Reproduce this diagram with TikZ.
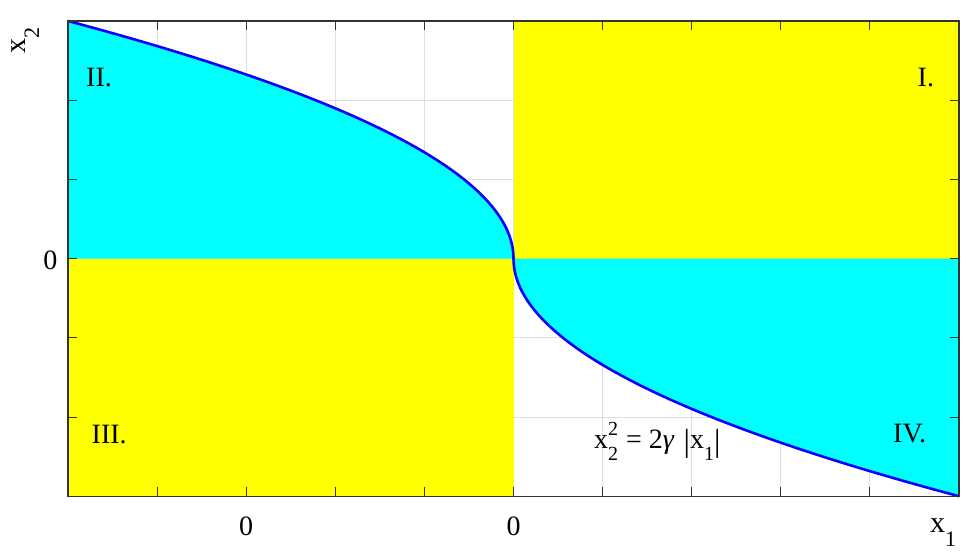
\documentclass[tikz,border=0pt]{standalone}
\usepackage{fontspec}
\setmainfont{Liberation Serif}
\definecolor{gridgray}{HTML}{DEDEDE}
\definecolor{axisgray}{HTML}{333333}
\definecolor{cyanfill}{RGB}{0,255,255}
\definecolor{yellowfill}{RGB}{255,255,0}
\definecolor{curveblue}{RGB}{0,0,255}
\tikzset{
  gridline/.style={draw=gridgray, line width=1pt},
  axisline/.style={draw=axisgray, line width=1.3pt},
  tickline/.style={draw=axisgray, line width=1pt},
  boundary/.style={draw=curveblue, line width=2.6pt},
  lbl/.style={inner sep=0pt, font=\fontsize{28}{28}\selectfont},
  axlbl/.style={inner sep=0pt, font=\fontsize{30}{30}\selectfont},
}
\newcommand{\smalltxt}[1]{{\fontsize{20}{20}\selectfont #1}}
\newcommand{\tallbar}{\raisebox{-3pt}{\fontsize{32}{32}\selectfont |}}
\begin{document}
\begin{tikzpicture}[x=1pt,y=-1pt]
\useasboundingbox (0,0) rectangle (977,554);
\coordinate (O) at (513.5,258.6);
\coordinate (TL) at (68,21);
\coordinate (TR) at (959,21);
\coordinate (BL) at (68,496.2);
\coordinate (BR) at (959,496.2);
\coordinate (ML) at (68,258.6);
\coordinate (MR) at (959,258.6);
\coordinate (MB) at (513.5,496.2);
% grid
\foreach \i in {1,...,9}
  \draw[gridline] ({68+89.1*\i},21) -- ({68+89.1*\i},496.2);
\foreach \j in {1,...,5}
  \draw[gridline] (68,{21+79.2*\j}) -- (959,{21+79.2*\j});
% regions
\fill[yellowfill] (O) rectangle (TR);
\fill[yellowfill] (ML) rectangle (MB);
\fill[cyanfill] (ML) -- (TL) .. controls (365,100.2) and (513.5,179.4) .. (O) -- cycle;
\fill[cyanfill] (O) .. controls (513.5,337.8) and (662,417) .. (BR) -- (MR) -- cycle;
% switching curve
\draw[boundary] (TL) .. controls (365,100.2) and (513.5,179.4) .. (O)
  .. controls (513.5,337.8) and (662,417) .. (BR);
% axes box and ticks
\draw[axisline] (TL) rectangle (BR);
\foreach \i in {1,...,9} {
  \draw[tickline] ({68+89.1*\i},496.2) -- ({68+89.1*\i},487.2);
  \draw[tickline] ({68+89.1*\i},21) -- ({68+89.1*\i},30);
}
\foreach \j in {1,...,5} {
  \draw[tickline] (68,{21+79.2*\j}) -- (77,{21+79.2*\j});
  \draw[tickline] (959,{21+79.2*\j}) -- (950,{21+79.2*\j});
}
% tick labels
\node[lbl, anchor=base] (xt1) at (246,535) {0};
\node[lbl, anchor=base] (xt2) at (513.5,535) {0};
\node[lbl, anchor=base east] (yt1) at (57.5,269) {0};
% axis labels
\node[axlbl, anchor=base west] (x1lab) at (930,532) {x\raisebox{-14pt}{\fontsize{22}{22}\selectfont 1}};
\node[axlbl, anchor=base west, rotate=90] (x2lab) at (25,54) {x\raisebox{-14pt}{\fontsize{22}{22}\selectfont 2}};
% region labels
\node[lbl, anchor=base west] (rII) at (86,86.7) {II.};
\node[lbl, anchor=base west] (rI) at (917.5,86) {I.};
\node[lbl, anchor=base west] (rIII) at (91.5,443) {III.};
\node[lbl, anchor=base west] (rIV) at (893,442) {IV.};
% equation
\node[lbl, anchor=base west] (eq) at (594,448)
  {x\rlap{\raisebox{13pt}{\smalltxt{2}}}\raisebox{-12pt}{\smalltxt{2}}\kern1pt{} = 2\textit{γ}\kern2pt{} \tallbar x\raisebox{-12pt}{\smalltxt{1}}\tallbar};
\end{tikzpicture}
\end{document}
